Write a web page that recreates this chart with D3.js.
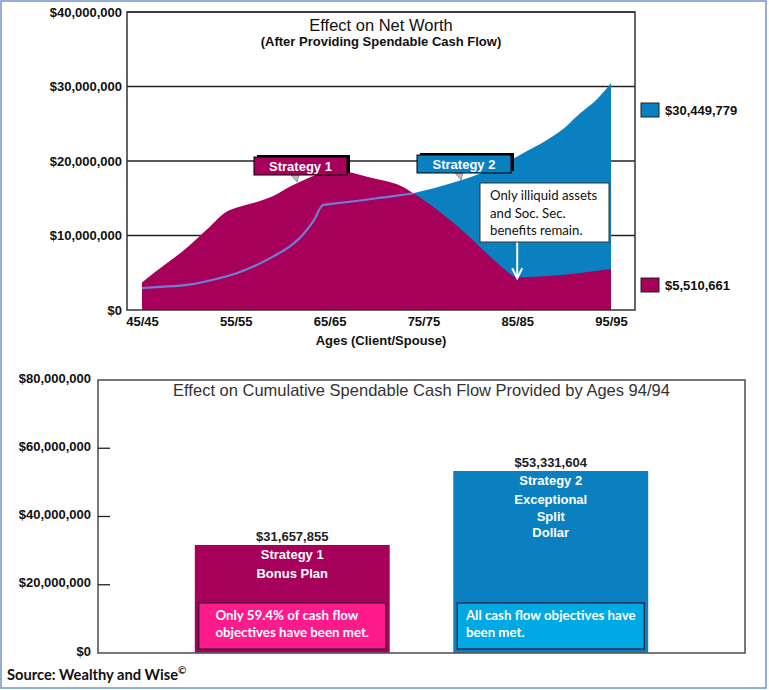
<!DOCTYPE html>
<html><head><meta charset="utf-8">
<script src="https://cdn.jsdelivr.net/npm/d3@7/dist/d3.min.js"></script>
<style>
html,body{margin:0;padding:0;background:#fff;}
svg{display:block;font-family:"Liberation Sans",Arial,sans-serif;}
</style></head>
<body>
<svg id="c" width="769" height="690"></svg>
<script>
// ---------- DATA ----------
// Top chart: net worth ($ millions) by age (client/spouse)
const s1Ages   = [45, 46.5, 48, 50, 52, 54, 55.5, 57.5, 59, 61, 62.5, 64, 65.5, 67, 69, 71, 72.5, 74, 76, 78, 80, 82, 83.5, 85, 95];
const s1Values = [3.7, 5.2, 6.6, 8.6, 10.9, 13.2, 13.9, 14.6, 15.3, 16.7, 17.6, 18.3, 18.6, 18.5, 17.9, 17.3, 16.7, 15.6, 13.9, 11.9, 9.7, 7.3, 5.6, 4.4, 5.51];
const s2Ages   = [45, 47, 50, 53, 55, 57, 59, 60.5, 62, 63.3, 64.3, 65, 70, 74, 76, 79, 81, 84, 86, 88, 90, 91.7, 93.5, 95];
const s2Values = [2.95, 3.1, 3.4, 4.2, 4.9, 5.9, 7.2, 8.3, 9.9, 12.0, 14.1, 14.2, 15.0, 15.7, 16.3, 17.4, 18.3, 19.9, 21.3, 22.7, 24.4, 26.4, 28.3, 30.45];
const topYTicks = [0, 10000000, 20000000, 30000000, 40000000];
const topXTicks = [45, 55, 65, 75, 85, 95];
const topXLabels = ["45/45", "55/55", "65/65", "75/75", "85/85", "95/95"];
const legendTotals = [30449779, 5510661];   // Strategy 2, Strategy 1
const tagLabels = ["Strategy 1", "Strategy 2"];
const calloutLines = ["Only illiquid assets", "and Soc. Sec.", "benefits remain."];
const calloutAge = 85;

// Bottom chart: cumulative spendable cash flow
const barCategories = ["Strategy 1", "Strategy 2"];
const barValues = [31657855, 53331604];
const barInnerLabels = [["Strategy 1", "Bonus Plan"], ["Strategy 2", "Exceptional", "Split", "Dollar"]];
const barNotes = [["Only 59.4% of cash flow", "objectives have been met."], ["All cash flow objectives have", "been met."]];
const bottomYTicks = [0, 20000000, 40000000, 60000000, 80000000];

// ---------- STYLE ----------
const MAG = "#A6005A", BLU = "#0A80C0", LINE = "#6E7FD6", PINK = "#FF1A8C", SKY = "#00A8E4";
const ARIAL = "'Liberation Sans', Arial, sans-serif";
const CALIBRI = "Lato, 'Open Sans', sans-serif";
const svg = d3.select("#c");
const money = d3.format("$,");

// frame
svg.append("rect").attr("x", 1).attr("y", 1).attr("width", 765).attr("height", 687)
  .attr("fill", "none").attr("stroke", "#7094CC").attr("stroke-width", 1.5);

// ---------- TOP CHART ----------
const T = {l: 127, r: 635, t: 12, b: 310};
const x = d3.scaleLinear().domain([45, 95]).range([142, 611]);
const y = d3.scaleLinear().domain([0, 40]).range([T.b, T.t]);
const s1 = s1Ages.map((a, i) => ({a, v: s1Values[i]}));
const s2 = s2Ages.map((a, i) => ({a, v: s2Values[i]}));

const g = svg.append("g");
g.selectAll("line.grid").data(topYTicks.slice(1)).join("line")
  .attr("x1", T.l).attr("x2", T.r)
  .attr("y1", d => y(d / 1e6)).attr("y2", d => y(d / 1e6))
  .attr("stroke", "#222").attr("stroke-width", 1.3);

const area = d3.area().curve(d3.curveMonotoneX).x(d => x(d.a)).y0(y(0)).y1(d => y(d.v));
const line = d3.line().curve(d3.curveMonotoneX).x(d => x(d.a)).y(d => y(d.v));

g.append("path").datum(s2).attr("d", area).attr("fill", BLU);
g.append("path").datum(s1).attr("d", area).attr("fill", MAG);
svg.append("clipPath").attr("id", "magclip").append("path").datum(s1).attr("d", area);
g.append("path").datum(s2).attr("d", line).attr("fill", "none")
  .attr("stroke", LINE).attr("stroke-width", 2.2).attr("clip-path", "url(#magclip)");

g.append("path").attr("d", `M${T.l},${T.t}V${T.b}H${T.r}V${T.t}Z`)
  .attr("fill", "none").attr("stroke", "#333").attr("stroke-width", 1.5);

const yAx = d3.axisLeft(y).tickValues(topYTicks.map(d => d / 1e6)).tickSize(0).tickPadding(5)
  .tickFormat(d => money(d * 1e6));
const ya = g.append("g").attr("transform", `translate(${T.l},0)`).call(yAx);
ya.select(".domain").remove();
ya.selectAll("text").style("font-size", "13px").style("font-weight", "bold").attr("fill", "#111")
  .style("font-family", ARIAL);

const xAx = d3.axisBottom(x).tickValues(topXTicks).tickSize(0).tickPadding(7)
  .tickFormat((d, i) => topXLabels[i]);
const xa = g.append("g").attr("transform", `translate(0,${T.b})`).call(xAx);
xa.select(".domain").remove();
xa.selectAll("text").style("font-size", "13px").style("font-weight", "bold").attr("fill", "#111")
  .style("font-family", ARIAL);

g.append("text").attr("x", 381).attr("y", 345).attr("text-anchor", "middle")
  .style("font-size", "13px").style("font-weight", "bold").attr("fill", "#111").text("Ages (Client/Spouse)");

g.append("text").attr("x", 381).attr("y", 31).attr("text-anchor", "middle")
  .style("font-size", "16.5px").attr("fill", "#111").text("Effect on Net Worth");
g.append("text").attr("x", 381).attr("y", 46).attr("text-anchor", "middle")
  .style("font-size", "13px").style("font-weight", "bold").attr("fill", "#111").text("(After Providing Spendable Cash Flow)");

// strategy tags
const tags = [
  {label: tagLabels[0], x: 254, y: 157, w: 93, h: 18, fill: MAG, px: 296, py: 182},
  {label: tagLabels[1], x: 417, y: 155, w: 94, h: 18, fill: BLU, px: 460, py: 180}
];
tags.forEach(t => {
  g.append("path").attr("d", `M${t.px - 5},${t.y + t.h}L${t.px + 3},${t.y + t.h}L${t.px + 1},${t.py}Z`)
    .attr("fill", "#bbb").attr("stroke", "#777").attr("stroke-width", 0.7);
  g.append("rect").attr("x", t.x + 3).attr("y", t.y - 2).attr("width", t.w).attr("height", t.h).attr("fill", "#000");
  g.append("rect").attr("x", t.x).attr("y", t.y).attr("width", t.w).attr("height", t.h)
    .attr("fill", t.fill).attr("stroke", "#000").attr("stroke-width", 1);
  g.append("text").attr("x", t.x + t.w / 2).attr("y", t.y + 14).attr("text-anchor", "middle")
    .style("font-size", "13px").style("font-weight", "bold").attr("fill", "#fff").text(t.label);
});

// callout
const cb = {x: 480, y: 183, w: 129, h: 59};
const ax = x(calloutAge);
const s1AtCallout = s1Values[s1Ages.indexOf(calloutAge)];
const tipY = y(s1AtCallout) + 1;
g.append("line").attr("x1", ax).attr("x2", ax).attr("y1", cb.y + cb.h).attr("y2", tipY)
  .attr("stroke", "#fff").attr("stroke-width", 2);
g.append("path").attr("d", `M${ax - 5},${tipY - 10}L${ax},${tipY}L${ax + 5},${tipY - 10}`)
  .attr("fill", "none").attr("stroke", "#fff").attr("stroke-width", 2);
g.append("rect").attr("x", cb.x).attr("y", cb.y).attr("width", cb.w).attr("height", cb.h)
  .attr("fill", "#fff").attr("stroke", "#333").attr("stroke-width", 1);
g.selectAll("text.callout").data(calloutLines).join("text").attr("class", "callout")
  .attr("x", cb.x + 10).attr("y", (d, i) => cb.y + 17 + i * 17.5)
  .style("font-family", CALIBRI).style("font-size", "13.2px").attr("fill", "#111")
  .text(d => d);

// legend
const legend = [{v: legendTotals[0], c: BLU, y: 103}, {v: legendTotals[1], c: MAG, y: 278}];
legend.forEach(l => {
  g.append("rect").attr("x", 641).attr("y", l.y).attr("width", 18).attr("height", 14)
    .attr("fill", l.c).attr("stroke", "#222").attr("stroke-width", 1);
  g.append("text").attr("x", 665).attr("y", l.y + 11.5).style("font-size", "13px").style("font-weight", "bold")
    .attr("fill", "#111").text(money(l.v));
});

// ---------- BOTTOM CHART ----------
const B = {l: 98, r: 745, t: 380, b: 653};
const xb = d3.scaleBand().domain(barCategories).range([B.l, B.r]).paddingInner(0.246).paddingOuter(0.3745);
const yb = d3.scaleLinear().domain([0, 80000000]).range([B.b, B.t]);
const gb = svg.append("g");
const barColors = [MAG, BLU], noteColors = [PINK, SKY];

gb.selectAll("rect.bar").data(barValues).join("rect").attr("class", "bar")
  .attr("x", (d, i) => xb(barCategories[i])).attr("width", xb.bandwidth())
  .attr("y", d => yb(d)).attr("height", d => yb(0) - yb(d))
  .attr("fill", (d, i) => barColors[i]);

gb.append("rect").attr("x", B.l).attr("y", B.t).attr("width", B.r - B.l).attr("height", B.b - B.t)
  .attr("fill", "none").attr("stroke", "#555").attr("stroke-width", 1.6);

gb.selectAll("line.tk").data(bottomYTicks.slice(1, -1)).join("line")
  .attr("x1", B.l).attr("x2", B.l + 12).attr("y1", d => yb(d)).attr("y2", d => yb(d))
  .attr("stroke", "#222").attr("stroke-width", 1.3);
gb.selectAll("text.yl").data(bottomYTicks).join("text")
  .attr("x", B.l - 7).attr("y", d => yb(d) - 2).attr("dy", "0.35em").attr("text-anchor", "end")
  .style("font-size", "13px").style("font-weight", "bold").attr("fill", "#111").text(d => money(d));

gb.append("text").attr("x", (B.l + B.r) / 2).attr("y", 396).attr("text-anchor", "middle")
  .style("font-size", "16.5px").attr("fill", "#333")
  .text("Effect on Cumulative Spendable Cash Flow Provided by Ages 94/94");

barValues.forEach((v, i) => {
  const bx = xb(barCategories[i]), bw = xb.bandwidth(), cx = bx + bw / 2, top = yb(v);
  gb.append("text").attr("x", cx).attr("y", top - 4).attr("text-anchor", "middle")
    .style("font-size", "13px").style("font-weight", "bold").attr("fill", "#222").text(money(v));
  barInnerLabels[i].forEach((s, j) => {
    gb.append("text").attr("x", cx).attr("y", top + 14 + (j > 0 ? 19 + (j - 1) * 16.5 : 0))
      .attr("text-anchor", "middle").style("font-size", "13px").style("font-weight", "bold")
      .attr("fill", "#fff").text(s);
  });
  const nb = {x: bx + 4, y: yb(0) - 50, w: bw - 8, h: 46};
  gb.append("rect").attr("x", nb.x).attr("y", nb.y).attr("width", nb.w).attr("height", nb.h)
    .attr("fill", noteColors[i]).attr("stroke", "#3a1a2a").attr("stroke-width", 1.2);
  const texts = barNotes[i].map((s, j) => gb.append("text").attr("y", nb.y + 17 + j * 16.5)
    .style("font-family", CALIBRI).style("font-size", "13.3px").style("font-weight", "bold")
    .attr("fill", "#fff").text(s));
  const maxW = d3.max(texts, t => t.node().getComputedTextLength());
  texts.forEach(t => t.attr("x", nb.x + nb.w / 2 - maxW / 2));
});

// source
const src = svg.append("text").attr("x", 7).attr("y", 680)
  .style("font-family", CALIBRI).style("font-size", "14.7px").style("font-weight", "bold").attr("fill", "#111");
src.append("tspan").text("Source: Wealthy and Wise");
src.append("tspan").attr("dy", -6).style("font-size", "10px").text("©");
</script>
</body></html>
